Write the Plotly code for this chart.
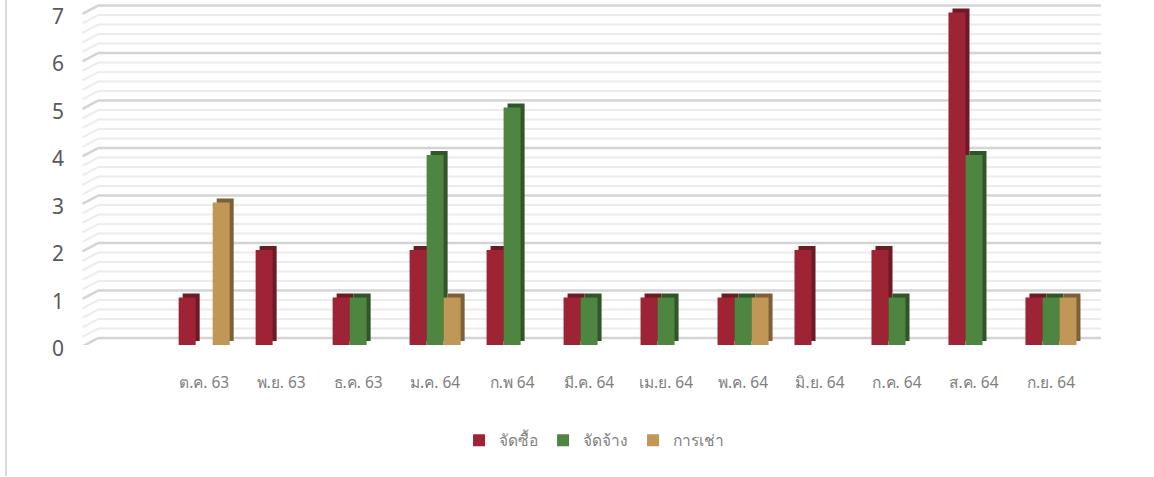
import numpy as np
import plotly.graph_objects as go

# ---- data ----
months = ["", "ต.ค. 63", "พ.ย. 63", "ธ.ค. 63", "ม.ค. 64", "ก.พ 64", "มี.ค. 64",
          "เม.ย. 64", "พ.ค. 64", "มิ.ย. 64", "ก.ค. 64", "ส.ค. 64", "ก.ย. 64"]
series_names = ["จัดซื้อ", "จัดจ้าง", "การเช่า"]
purchase = [0, 1, 2, 1, 2, 2, 1, 1, 1, 2, 2, 7, 1]
hire = [0, 0, 0, 1, 4, 5, 1, 1, 1, 0, 1, 4, 1]
rent = [0, 3, 0, 0, 1, 0, 0, 0, 1, 0, 0, 0, 1]
y_ticks = [0, 1, 2, 3, 4, 5, 6, 7]

# ---- styling ----
front_colors = ["#9e2435", "#4e8540", "#c19758"]
side_colors = ["#6c1a24", "#305528", "#7c6038"]
offsets = [-0.3315, -0.1105, 0.1105]
BAR_W = 0.221
DX, DY = 0.052, 0.084          # pseudo-3D depth of bars
WALL_DX, WALL_DY = 0.24, 0.145  # depth of back wall gridlines
FONT = "Noto Sans, DejaVu Sans, sans-serif"

x_idx = list(range(len(months)))
values = [purchase, hire, rent]

fig = go.Figure()
# side/top faces first
for vals, off, col in zip(values, offsets, side_colors):
    fig.add_trace(go.Bar(x=x_idx, y=vals, base=DY, offset=off + DX, width=BAR_W,
                         marker=dict(color=col, line=dict(width=0)),
                         showlegend=False, hoverinfo="skip"))
# front faces
for vals, off, col, name in zip(values, offsets, front_colors, series_names):
    fig.add_trace(go.Bar(x=x_idx, y=vals, offset=off, width=BAR_W, name=name,
                         marker=dict(color=col, line=dict(width=0))))

# back-wall gridlines with slanted floor edges
x_lo, x_hi = -0.6, 12.65
shapes = []
grid_levels = np.round(np.arange(0, y_ticks[-1] + 0.001, 0.2), 2)
for v in grid_levels:
    major = abs(v - round(v)) < 1e-6
    col = "#d4d4d4" if major else "#ececec"
    w = 2.5 if major else 2
    shapes.append(dict(type="line", xref="x", yref="y", layer="below",
                       x0=x_lo + WALL_DX - 0.02, x1=x_hi, y0=v + WALL_DY, y1=v + WALL_DY,
                       line=dict(color=col, width=w)))
    shapes.append(dict(type="line", xref="x", yref="y", layer="below",
                       x0=x_lo + 0.02, x1=x_lo + WALL_DX - 0.02, y0=v - 0.03, y1=v + WALL_DY,
                       line=dict(color=col, width=w)))
# left border of chart area
shapes.append(dict(type="line", xref="paper", yref="paper", x0=-0.0735, x1=-0.0735,
                   y0=1.01, y1=-0.383, line=dict(color="#d9d9d9", width=2)))

fig.update_layout(
    width=1154, height=477,
    margin=dict(l=81, r=53, t=3, b=132, autoexpand=False),
    paper_bgcolor="white", plot_bgcolor="white",
    barmode="overlay",
    font=dict(family=FONT),
    shapes=shapes,
    xaxis=dict(range=[x_lo, x_hi], tickvals=x_idx, ticktext=months, automargin=False,
               showgrid=False, zeroline=False, showline=False, ticks="",
               ticklabelstandoff=26, tickfont=dict(size=15.5, color="#7f7f7f")),
    yaxis=dict(range=[0, 7.2], tickvals=y_ticks, showgrid=False, zeroline=False,
               showline=False, ticks="", ticklabelstandoff=16, ticklabelshift=4,
               ticklabeloverflow="allow", automargin=False,
               tickfont=dict(size=21, color="#595959")),
    legend=dict(orientation="h", x=0.503, xanchor="center", y=-0.28, yanchor="middle",
                font=dict(size=15.5, color="#7f7f7f"), traceorder="normal"),
    showlegend=True,
)

fig.write_html("out.html")
